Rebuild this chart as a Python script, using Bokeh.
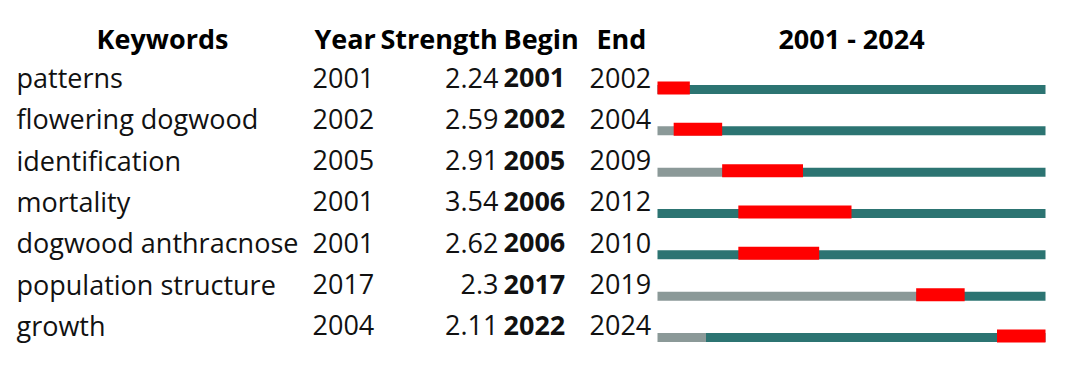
from bokeh.plotting import figure
from bokeh.models import Range1d, ColumnDataSource
from bokeh.core.properties import value
from bokeh.embed import file_html
from bokeh.resources import INLINE

keywords = ["patterns", "flowering dogwood", "identification", "mortality",
            "dogwood anthracnose", "population structure", "growth"]
years = [2001, 2002, 2005, 2001, 2001, 2017, 2004]
strengths = [2.24, 2.59, 2.91, 3.54, 2.62, 2.3, 2.11]
begins = [2001, 2002, 2005, 2006, 2006, 2017, 2022]
ends = [2002, 2004, 2009, 2012, 2010, 2019, 2024]
start_year, end_year = 2001, 2024

W, H = 1050, 351
X0, X1 = 657, 1045          # pixel extent of timeline
ROW0, ROWH = 89, 41.33      # pixel center of first bar, row spacing
ppy = (X1 - X0) / (end_year + 1 - start_year)

def px2x(px):
    return start_year + (px - X0) / ppy

def py2y(py):
    return (py - ROW0) / ROWH

FONT = value("Open Sans")
FS = "27px"
TEAL = "#2C7472"
GRAY = "#8B9998"
RED = "#FF0000"

p = figure(width=W, height=H, output_backend="svg", toolbar_location=None,
           x_range=Range1d(px2x(0), px2x(W)), y_range=Range1d(py2y(H), py2y(0)),
           min_border=0, outline_line_color=None)
p.axis.visible = False
p.grid.visible = False
p.background_fill_color = "white"
p.border_fill_color = "white"

n = len(keywords)
rows = list(range(n))
ty = [r + py2y(ROW0 - 12) for r in rows]

# timeline lines
p.hbar(y=rows, left=[start_year] * n, right=years, height=9 / ROWH,
       color=GRAY, line_color=None)
p.hbar(y=rows, left=years, right=[end_year + 1] * n, height=9 / ROWH,
       color=TEAL, line_color=None)
p.hbar(y=[r - 1.5 / ROWH for r in rows], left=begins, right=[e + 1 for e in ends],
       height=13 / ROWH, color=RED, line_color=None)

src = ColumnDataSource(dict(
    y=ty, kw=keywords, yr=[str(v) for v in years],
    st=[str(v) for v in strengths], bg=[str(v) for v in begins],
    en=[str(v) for v in ends]))

common = dict(y="y", source=src, text_font=FONT, text_font_size=FS,
              text_baseline="middle", text_color="#111111")
p.text(x=px2x(16), text="kw", text_align="left", **common)
p.text(x=px2x(312), text="yr", text_align="left", **common)
p.text(x=px2x(498), text="st", text_align="right", **common)
p.text(x=px2x(503), text="bg", text_align="left", text_font_style="bold", **common)
p.text(x=px2x(589), text="en", text_align="left", **common)

hy = py2y(38)
headers = ["Keywords", "Year", "Strength", "Begin", "End", f"{start_year} - {end_year}"]
hx = [px2x(162), px2x(314), px2x(380), px2x(503), px2x(596), px2x(851)]
halign = ["center", "left", "left", "left", "left", "center"]
p.text(x=hx, y=[hy] * len(headers), text=headers, text_align=halign,
       text_font=FONT, text_font_size=FS, text_font_style="bold",
       text_baseline="middle", text_color="#000000")

open("out.html", "w").write(file_html(p, INLINE))
